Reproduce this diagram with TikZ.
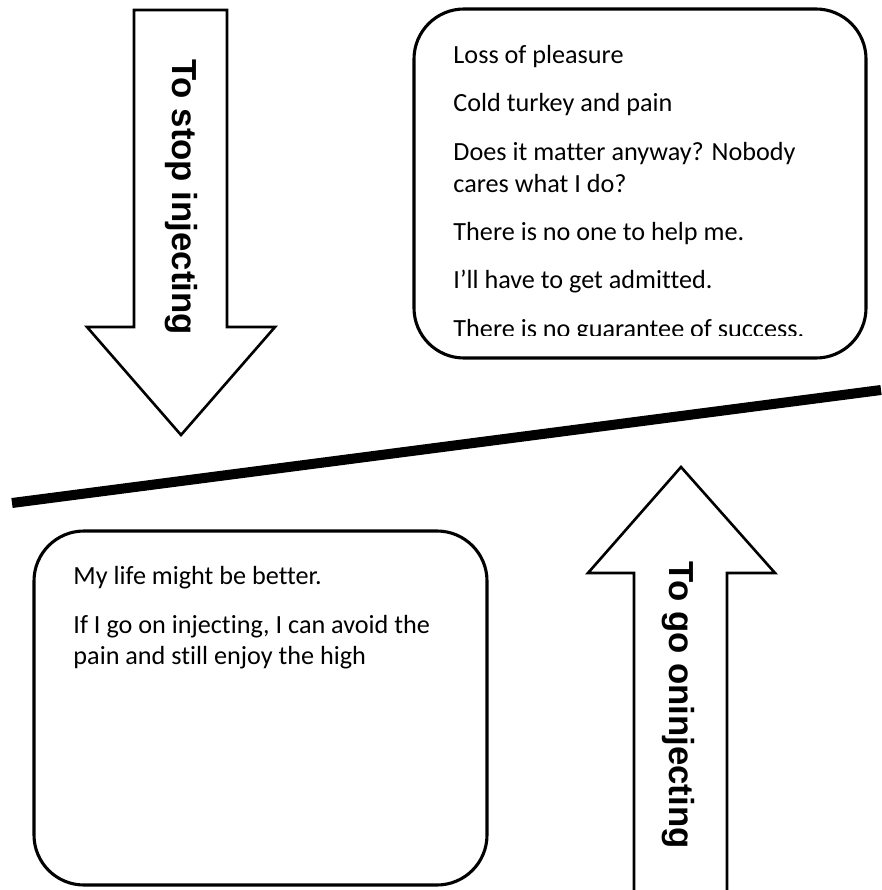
\documentclass[tikz,border=0pt]{standalone}
\usepackage{fontspec}
\newfontfamily\boxfont[Ligatures=NoCommon]{Carlito}
\newfontfamily\arrowfont{Liberation Sans}
\begin{document}
\begin{tikzpicture}[x=0.42pt,y=-0.42pt,
    card/.style={draw=black,line width=1.3pt,rounded corners=21pt,fill=white},
    fatarrow/.style={draw=black,line width=1.1pt,fill=white,line join=miter},
    balance/.style={draw=black,line width=4.2pt},
    thought/.style={align=left,inner sep=0pt,anchor=north west,font=\boxfont\fontsize{11}{13.4}\selectfont},
    arrowlabel/.style={rotate=-90,inner sep=0pt,font=\arrowfont\bfseries\fontsize{14.6}{16}\selectfont},
]
	\useasboundingbox (0,0) rectangle (881,890);

	% stop arrow
	\draw[fatarrow] (134,10) -- (227,10) -- (227,327) -- (275,327) -- (181,435)
	    -- (87,327) -- (134,327) -- cycle;
	\node[arrowlabel] (stoplabel) at (181,197) {To stop injecting};

	% go on arrow
	\draw[fatarrow] (634,890) -- (634,573) -- (588,573) -- (681,467)
	    -- (775,573) -- (727,573) -- (727,890);
	\node[arrowlabel] (golabel) at (678,705) {To go oninjecting};

	% balance beam
	\coordinate (beamL) at (12,503);
	\coordinate (beamR) at (881,390);
	\draw[balance] (beamL) -- (beamR);

	% reasons against
	\draw[card] (414,9) rectangle (866,358);
	\begin{scope}
	  \clip (414,9) rectangle (866,335);
	  \node[thought] (against) at (453,45) {Loss of pleasure\\[6.9pt]
	    Cold turkey and pain\\[6.9pt]
	    Does it matter anyway? Nobody\\
	    cares what I do?\\[6.9pt]
	    There is no one to help me.\\[6.9pt]
	    I’ll have to get admitted.\\[6.9pt]
	    There is no guarantee of success.};
	\end{scope}

	% reasons for
	\draw[card] (34,531) rectangle (487,885);
	\node[thought] (pro) at (73,566) {My life might be better.\\[6.9pt]
	  If I go on injecting, I can avoid the\\
	  pain and still enjoy the high};
\end{tikzpicture}
\end{document}
